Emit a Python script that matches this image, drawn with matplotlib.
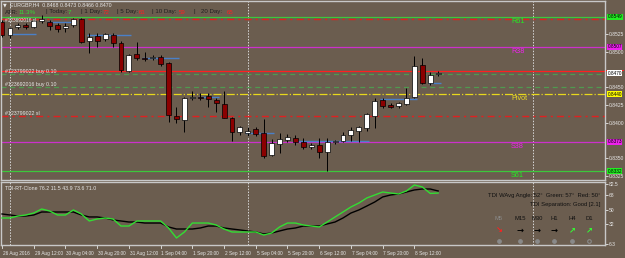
import numpy as np
import matplotlib
matplotlib.use("Agg")
import matplotlib.pyplot as plt
import matplotlib.transforms as mtransforms
from matplotlib.patches import Rectangle

# ---- data (EURGBP H4) ----
opens = [0.8542, 0.8524, 0.8535, 0.8538, 0.8535, 0.8543, 0.8542, 0.8538, 0.8534, 0.8538,
         0.8546, 0.8515, 0.8522, 0.8518, 0.8524, 0.8512, 0.8473, 0.8497, 0.8491, 0.8491,
         0.8493, 0.8484, 0.8410, 0.8404, 0.8435, 0.8436, 0.8438, 0.8432, 0.8426, 0.8407,
         0.8387, 0.8386, 0.8391, 0.8386, 0.8355, 0.8370, 0.8376, 0.8379, 0.8373, 0.8366,
         0.8369, 0.8359, 0.8373, 0.8374, 0.8383, 0.8388, 0.8393, 0.8410, 0.8432, 0.8425,
         0.8424, 0.8426, 0.8436, 0.8481, 0.8456, 0.8468]
highs = [0.8545, 0.8535, 0.8541, 0.8541, 0.8545, 0.8552, 0.8545, 0.8541, 0.8541, 0.8548,
         0.8548, 0.8526, 0.8526, 0.8526, 0.8526, 0.8515, 0.8497, 0.8514, 0.8500, 0.8495,
         0.8495, 0.8486, 0.8422, 0.8436, 0.8445, 0.8442, 0.8442, 0.8435, 0.8445, 0.8408,
         0.8395, 0.8394, 0.8394, 0.8405, 0.8377, 0.8386, 0.8384, 0.8383, 0.8379, 0.8372,
         0.8379, 0.8379, 0.8376, 0.8387, 0.8394, 0.8395, 0.8414, 0.8435, 0.8435, 0.8428,
         0.8429, 0.8449, 0.8494, 0.8491, 0.8472, 0.8473]
lows = [0.8521, 0.8519, 0.8532, 0.8532, 0.8534, 0.8540, 0.8531, 0.8528, 0.8528, 0.8535,
        0.8512, 0.8498, 0.8507, 0.8515, 0.8507, 0.8472, 0.8472, 0.8488, 0.8487, 0.8488,
        0.8480, 0.8401, 0.8400, 0.8387, 0.8432, 0.8432, 0.8422, 0.8415, 0.8407, 0.8374,
        0.8383, 0.8381, 0.8381, 0.8350, 0.8353, 0.8357, 0.8373, 0.8369, 0.8363, 0.8363,
        0.8350, 0.8332, 0.8370, 0.8373, 0.8374, 0.8373, 0.8388, 0.8393, 0.8421, 0.8421,
        0.8421, 0.8425, 0.8435, 0.8455, 0.8453, 0.8466]
closes = [0.8524, 0.8534, 0.8538, 0.8535, 0.8543, 0.8546, 0.8536, 0.8532, 0.8536, 0.8546,
          0.8514, 0.8521, 0.8515, 0.8525, 0.8512, 0.8474, 0.8495, 0.8491, 0.8490, 0.8493,
          0.8483, 0.8411, 0.8405, 0.8435, 0.8436, 0.8435, 0.8434, 0.8428, 0.8407, 0.8387,
          0.8394, 0.8388, 0.8384, 0.8353, 0.8372, 0.8377, 0.8380, 0.8373, 0.8366, 0.8368,
          0.8359, 0.8373, 0.8374, 0.8383, 0.8390, 0.8394, 0.8412, 0.8431, 0.8424, 0.8422,
          0.8428, 0.8435, 0.8480, 0.8456, 0.8467, 0.8470]

tdi_green = [39.3, 39.3, 41.8, 43.1, 45.6, 50.7, 48.2, 43.1, 43.1, 49.5, 44.4, 35.5, 38.0, 39.3,
             38.0, 29.1, 29.1, 35.5, 35.5, 35.5, 35.5, 26.6, 13.9, 21.5, 32.9, 32.9, 32.9, 30.4,
             25.3, 21.5, 21.5, 21.5, 21.5, 17.7, 20.2, 27.9, 32.9, 32.9, 30.4, 29.1, 27.9, 34.2,
             40.6, 46.9, 53.3, 58.3, 64.7, 68.5, 72.3, 71.0, 69.8, 73.6, 81.2, 78.7, 70.5, 71.0]
tdi_black = [44.4, 43.1, 41.8, 41.8, 43.1, 46.9, 46.9, 46.9, 46.9, 46.9, 43.1, 40.6, 40.6, 39.3,
             36.8, 35.5, 34.2, 34.2, 32.9, 32.9, 32.9, 27.9, 25.3, 25.3, 25.3, 26.6, 29.1, 29.1,
             26.6, 25.3, 24.1, 22.8, 21.5, 19.0, 20.2, 22.8, 25.3, 26.6, 29.1, 29.1, 29.1, 31.7,
             34.2, 39.3, 45.6, 49.5, 54.5, 59.6, 66.0, 68.5, 69.8, 72.3, 74.9, 76.1, 76.1, 73.6]

time_labels = ["26 Aug 2016", "29 Aug 12:00", "30 Aug 04:00", "30 Aug 20:00", "31 Aug 12:00",
               "1 Sep 04:00", "1 Sep 20:00", "2 Sep 12:00", "5 Sep 04:00", "5 Sep 20:00",
               "6 Sep 12:00", "7 Sep 04:00", "7 Sep 20:00", "8 Sep 12:00"]
time_label_bars = [0, 4, 8, 12, 16, 20, 24, 28, 32, 36, 40, 44, 48, 52]

level_names = ["R61", "R38", "Pivot", "S38", "S61"]
level_prices = [0.8549, 0.8507, 0.8440, 0.8373, 0.8332]
level_colors = ["#3cc83c", "#cc30cc", "#e8d81c", "#cc30cc", "#3cc83c"]
level_text_colors = ["#22ee22", "#ee22ee", "#eedd22", "#ee22ee", "#22ee22"]
level_styles = ["-", "-", "-.", "-", "-"]

order_labels = ["#123799022 buy 0.10", "#123692016 buy 0.10", "#123799022 sl", "#123692016 sl"]
order_prices = [0.8469, 0.8451, 0.8410, 0.8546]
ask_price = 0.8473
bid_price = 0.8470

price_ticks = [0.8525, 0.8500, 0.8450, 0.8425, 0.8400, 0.8350, 0.8325]
tdi_ticks = [82.5, 68, 50, 32, 6.3]

# blue segments: (first bar, last bar, price)
seg_start = [1, 6, 11, 18, 25, 31, 37, 48, 54]
seg_end = [4, 9, 16, 22, 27, 34, 46, 52, 55]
seg_price = [0.8525, 0.8542, 0.8524, 0.8491, 0.8436, 0.8386, 0.8374, 0.8434, 0.8456]

separator_bars = [1, 31, 67]

tf_names = ["M5", "M15", "M30", "H1", "H4", "D1"]
tf_arrows = ["\u2198", "\u2192", "\u2192", "\u2192", "\u2197", "\u2197"]
tf_colors = ["#ff2020", "black", "black", "black", "#33ff33", "#33ff33"]

BG = "#6b5d4f"
FG = "#e8e8e8"
W, H = 625, 258

fig = plt.figure(figsize=(W / 100, H / 100), dpi=100, facecolor=BG)
plt.rcParams['font.family'] = ['Liberation Sans', 'DejaVu Sans']


def px_rect(x0, y0, x1, y1):
    return [x0 / W, 1 - y1 / H, (x1 - x0) / W, (y1 - y0) / H]


ax = fig.add_axes(px_rect(1, 1, 605, 180), facecolor=BG)
ax2 = fig.add_axes(px_rect(1, 182, 605, 245), facecolor=BG)

xmin, xmax = -0.13, 76.04
for a in (ax, ax2):
    a.set_xlim(xmin, xmax)
    for s in a.spines.values():
        s.set_color("#c8c8c8")
        s.set_linewidth(1.0)
    a.tick_params(axis="x", length=0, labelbottom=False)
ax.set_ylim(0.83194, 0.85715)
ax2.set_ylim(5, 85)

# price ticks on right
for a, ticks, fmt in ((ax, price_ticks, "{:.4f}"), (ax2, tdi_ticks, "{:g}")):
    a.yaxis.tick_right()
    a.set_yticks(ticks)
    a.set_yticklabels([fmt.format(t) for t in ticks])
    a.tick_params(axis="y", which="major", length=2, width=0.6, color=FG, labelsize=3.6,
                  labelcolor=FG, pad=1)

x = np.arange(len(opens))
o, h, l, c = (np.array(v) for v in (opens, highs, lows, closes))

# separators
for b in separator_bars:
    for a in (ax, ax2):
        a.axvline(b, color="#d8d8d8", lw=0.7, ls=(0, (1.5, 1.5)), zorder=1)

# pivot levels
for p, col, st in zip(level_prices, level_colors, level_styles):
    ax.axhline(p, color=col, lw=0.9, ls=st, zorder=2)
# order lines
ax.axhline(order_prices[0], color="#4f9a4f", lw=0.9, ls=(0, (4, 3)), zorder=2)
ax.axhline(order_prices[1], color="#4f9a4f", lw=0.9, ls=(0, (4, 3)), zorder=2)
ax.axhline(order_prices[2], color="#e02020", lw=1.0, ls=(0, (5, 3, 1.5, 3)), zorder=2)
ax.axhline(order_prices[3], color="#e02020", lw=1.0, ls=(0, (5, 3, 1.5, 3)), zorder=2)
ax.axhline(ask_price, color="#ff2020", lw=0.9, zorder=2)

# blue segments
ax.hlines(seg_price, np.array(seg_start) - 0.3, np.array(seg_end) + 0.3,
          color="#4a80c8", lw=1.0, zorder=3)

# candles
up = c >= o
ax.vlines(x, l, h, color="black", lw=0.7, zorder=4)
lo = np.minimum(o, c)
ht = np.maximum(np.abs(c - o), 0.00005)
ax.bar(x[up], ht[up], bottom=lo[up], width=0.62, color="white",
       edgecolor="black", lw=0.5, zorder=5)
ax.bar(x[~up], ht[~up], bottom=lo[~up], width=0.62, color="#8b0000",
       edgecolor="black", lw=0.5, zorder=5)

# level labels
for name, p, col in zip(level_names, level_prices, level_text_colors):
    ax.text(64.2, p - 0.0001, name, color=col, fontsize=5.2, va="top", ha="left", zorder=6)

# order labels
for lab, p in zip(order_labels[:3], order_prices[:3]):
    ax.text(0.4, p, lab, color=FG, fontsize=3.8, va="bottom", ha="left", zorder=6)
ax.text(0.4, order_prices[3] + 0.0001, order_labels[3], color=FG, fontsize=3.4,
        va="top", ha="left", zorder=6)

# right axis boxes
trans = mtransforms.blended_transform_factory(ax.transAxes, ax.transData)
ax.add_patch(Rectangle((1.002, ask_price - 0.00002), 0.03, 0.00014, transform=trans,
                       fc="#ff2020", ec="none", clip_on=False, zorder=6))
box_prices = [level_prices[0], level_prices[1], bid_price, level_prices[2],
              level_prices[3], level_prices[4]]
box_faces = ["#22ee22", "#ee22ee", "white", "#ffff00", "#ee22ee", "#22ee22"]
for p, fc in zip(box_prices, box_faces):
    ax.text(1.004, p, "{:.4f}".format(p), transform=trans, fontsize=3.4, color="black",
            va="center", ha="left", clip_on=False, zorder=7,
            bbox=dict(boxstyle="square,pad=0.12", fc=fc, ec="none"))

# header
fig.text(3 / W, 1 - 5 / H, "\u25bc", fontsize=3.5, color=FG, va="center", family="DejaVu Sans")
fig.text(10 / W, 1 - 5 / H, "EURGBP,H4  0.8468 0.8473 0.8466 0.8470", fontsize=3.8,
         color=FG, va="center")
atr_parts = [("ATR:", 5, "#202020"), ("11.3%", 19, "#33dd33"), ("| Today:", 46, "#202020"),
             ("7", 68, "#33dd33"), ("| 1 Day:", 81, "#202020"), ("72", 103, "#ff2020"),
             ("| 5 Day:", 117, "#202020"), ("61", 139, "#ff2020"),
             ("| 10 Day:", 152, "#202020"), ("59", 179, "#ff2020"), ("|", 193, "#202020"),
             ("20 Day:", 201, "#202020"), ("65", 227, "#ff2020")]
for txt, xp, col in atr_parts:
    fig.text(xp / W, 1 - 12 / H, txt, fontsize=4.4, color=col, va="center")

# TDI
ax2.set_yticks([68, 50, 32], minor=True)
ax2.tick_params(axis="y", which="minor", length=0)
ax2.grid(True, which="minor", axis="y", color="#9a8e80", lw=0.5, ls=(0, (3, 3)))
ax2.plot(x, tdi_black, color="black", lw=1.0, zorder=4)
ax2.plot(x, tdi_green, color="#33dd33", lw=1.0, zorder=5)
ax2.text(0.006, 0.93, "TDI-RT-Clone 76.2 11.5 43.9 73.6 71.0", transform=ax2.transAxes,
         fontsize=3.8, color=FG, va="top")
ax2.text(0.993, 0.78, "TDI WAvg Angle: 52\u00b0  Green: 57\u00b0  Red: 50\u00b0",
         transform=ax2.transAxes, fontsize=4.2, color="#101010", ha="right", va="center")
ax2.text(0.993, 0.64, "TDI Separation: Good [2.1]", transform=ax2.transAxes,
         fontsize=4.2, color="#101010", ha="right", va="center")
tf_x = [499, 520, 537, 554, 572, 589]
for i, (nm, arr, col) in enumerate(zip(tf_names, tf_arrows, tf_colors)):
    xf = (tf_x[i] - 1) / 604
    ax2.text(xf, 0.42, nm, transform=ax2.transAxes, fontsize=4.2,
             color="#8a8a8a" if i == 0 else "#101010", ha="center", va="center")
    ax2.text(xf, 0.24, arr, transform=ax2.transAxes, fontsize=6, color=col,
             ha="center", va="center", weight="bold", family="DejaVu Sans")
    ax2.plot(xf, 0.06, "o", transform=ax2.transAxes, ms=2.6,
             mfc="none" if i == 5 else "#8a8a8a", mec="#8a8a8a", mew=0.8, clip_on=False)

# time axis
for b, lab in zip(time_label_bars, time_labels):
    ax2.plot([b, b], [0, -0.05], transform=ax2.get_xaxis_transform(), color=FG,
             lw=0.6, clip_on=False)
    ax2.text(b + 0.1, -0.1, lab, transform=ax2.get_xaxis_transform(), fontsize=3.4,
             color=FG, va="top", ha="left")

fig.savefig("out.png", dpi=100, facecolor=BG)
